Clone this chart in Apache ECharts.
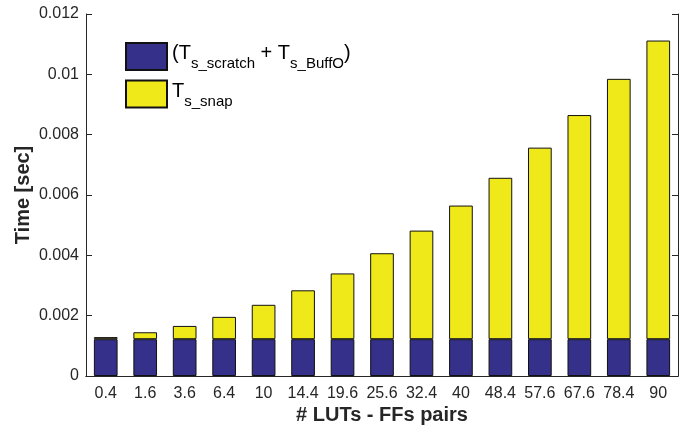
<!DOCTYPE html>
<html>
<head>
    <meta charset="utf-8">
    <title>ECharts</title>
    <script src="https://cdn.jsdelivr.net/npm/echarts@6/dist/echarts.min.js"></script>
</head>
<body style="margin:0">
    <div id="main" style="width:692px;height:428px"></div>
    <script type="text/javascript">
        // x categories (# LUTs - FFs pairs)
        var pairs = ['0.4', '1.6', '3.6', '6.4', '10', '14.4', '19.6', '25.6', '32.4', '40', '48.4', '57.6', '67.6', '78.4', '90'];
        // Ts_scratch + Ts_BuffO (blue, bottom)
        var scratchBuff = [0.00122, 0.00122, 0.00122, 0.00122, 0.00122, 0.00122, 0.00122, 0.00122, 0.00122, 0.00122, 0.00122, 0.00122, 0.00122, 0.00122, 0.00122];
        // Ts_snap (yellow, stacked on top)
        var snap = [0.00007, 0.00023, 0.00044, 0.00074, 0.00114, 0.00162, 0.00218, 0.00285, 0.00360, 0.00443, 0.00535, 0.00635, 0.00743, 0.00863, 0.00990];
        var yTicks = [0, 0.002, 0.004, 0.006, 0.008, 0.01, 0.012];

        var font = 'Liberation Sans, Arial, Helvetica, sans-serif';
        var chart = echarts.init(document.getElementById('main'));

        function fmt(v) {
            return parseFloat(v.toFixed(4)).toString();
        }

        var option = {
            animation: false,
            textStyle: { fontFamily: font },
            grid: { left: 86, right: 14, top: 14, bottom: 52, outerBoundsMode: 'none', containLabel: false },
            legend: {
                left: 120,
                top: 37,
                orient: 'vertical',
                icon: 'rect',
                itemWidth: 41,
                itemHeight: 27,
                itemGap: 8,
                data: ['scratch', 'snap'],
                formatter: function (name) {
                    if (name === 'scratch') {
                        return '{t|(T}{s|s_scratch}{t| + T}{s|s_BuffO}{t|)}';
                    }
                    return '{t|T}{s|s_snap}';
                },
                textStyle: {
                    fontFamily: font,
                    color: '#000',
                    rich: {
                        t: { fontSize: 20, fontFamily: font, color: '#000', padding: [0, 0, 6, 0] },
                        s: { fontSize: 15, fontFamily: font, color: '#000', padding: [15, 0, 0, 0] }
                    }
                }
            },
            xAxis: [{
                type: 'category',
                data: pairs,
                name: '# LUTs - FFs pairs',
                nameLocation: 'middle',
                nameGap: 29,
                nameMoveOverlap: false,
                nameTextStyle: { fontSize: 20, fontWeight: 'bold', color: '#262626', fontFamily: font },
                axisLine: { lineStyle: { color: '#262626', width: 1 } },
                axisTick: { inside: true, alignWithLabel: true, length: 6, lineStyle: { color: '#262626' } },
                axisLabel: { fontSize: 16, color: '#262626', margin: 10, interval: 0 }
            }, {
                type: 'category',
                data: pairs,
                position: 'top',
                axisLine: { lineStyle: { color: '#262626', width: 1 } },
                axisTick: { inside: true, alignWithLabel: true, length: 6, lineStyle: { color: '#262626' } },
                axisLabel: { show: false }
            }],
            yAxis: [{
                type: 'value',
                min: 0,
                max: 0.012,
                interval: 0.002,
                name: 'Time [sec]',
                nameLocation: 'middle',
                nameGap: 53,
                nameMoveOverlap: false,
                nameTextStyle: { fontSize: 20, fontWeight: 'bold', color: '#262626', fontFamily: font },
                axisLine: { show: true, lineStyle: { color: '#262626', width: 1 } },
                axisTick: { show: true, inside: true, length: 6, lineStyle: { color: '#262626' } },
                axisLabel: { fontSize: 16, color: '#262626', margin: 7, formatter: fmt },
                splitLine: { show: false }
            }, {
                type: 'value',
                min: 0,
                max: 0.012,
                interval: 0.002,
                position: 'right',
                axisLine: { show: true, lineStyle: { color: '#262626', width: 1 } },
                axisTick: { show: true, inside: true, length: 6, lineStyle: { color: '#262626' } },
                axisLabel: { show: false },
                splitLine: { show: false }
            }],
            series: [{
                name: 'scratch',
                type: 'bar',
                stack: 'time',
                barWidth: '60%',
                data: scratchBuff,
                itemStyle: { color: '#35318a', borderColor: '#111', borderWidth: 1 }
            }, {
                name: 'snap',
                type: 'bar',
                stack: 'time',
                barWidth: '60%',
                data: snap,
                itemStyle: { color: '#efe91a', borderColor: '#111', borderWidth: 1 }
            }]
        };
        chart.setOption(option);
    </script>
</body>
</html>
